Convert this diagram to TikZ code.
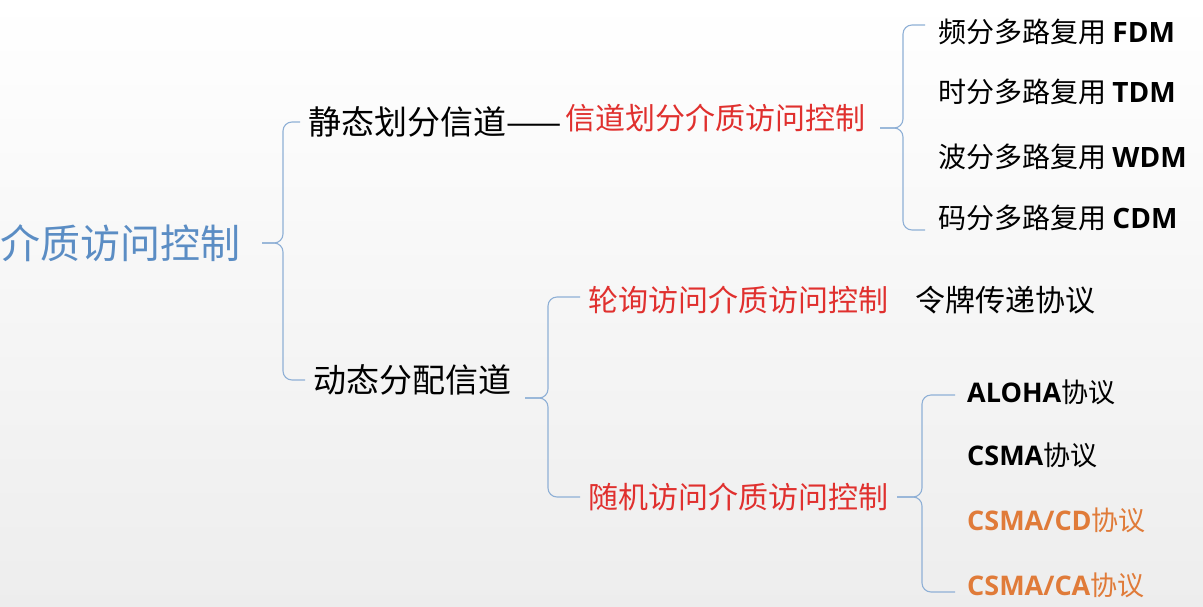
\documentclass[tikz,border=0pt]{standalone}
\usepackage{fontspec}
\usetikzlibrary{calc}
\setmainfont{Noto Sans CJK SC}
\newfontfamily\latb{Open Sans}[BoldFont={Open Sans Bold}]
\definecolor{rootblue}{HTML}{5B8DC4}
\definecolor{redt}{HTML}{E0302E}
\definecolor{orng}{HTML}{E07B39}
\definecolor{brc}{HTML}{8FB0D6}
\begin{document}
\begin{tikzpicture}[x=1pt,y=-1pt,
  txt/.style={anchor=west,inner sep=0pt},
  fs/.style={font=\fontsize{#1}{#1}\selectfont},
  brace/.style={draw=brc,line width=1.1pt,rounded corners=9pt}]
\shade[top color=white,bottom color=black!7] (0,0) rectangle (1203,606);
\useasboundingbox (0,0) rectangle (1203,606);
\node[txt,fs=40,text=rootblue] (root) at (0,243) {介质访问控制};
\node[txt,fs=33] (stat) at (308,122) {静态划分信道——};
\node[txt,fs=30,text=redt] (chan) at (565,118) {信道划分介质访问控制};
\node[txt,fs=33] (dyn) at (313,380) {动态分配信道};
\foreach \n/\t/\l/\y in {fdm/频/FDM/32,tdm/时/TDM/92,wdm/波/WDM/157,cdm/码/CDM/218}
  \node[txt,fs=28] (\n) at (938,\y) {\t 分多路复用 {\latb\bfseries\l}};
\node[txt,fs=30,text=redt] (poll) at (588,300) {轮询访问介质访问控制};
\node[txt,fs=30] (token) at (915,300) {令牌传递协议};
\node[txt,fs=30,text=redt] (rand) at (588,497) {随机访问介质访问控制};
\node[txt,fs=27] (aloha) at (967,392) {{\latb\bfseries ALOHA}协议};
\node[txt,fs=27] (csma) at (967,455) {{\latb\bfseries CSMA}协议};
\node[txt,fs=27,text=orng] (cd) at (967,520) {{\latb\bfseries CSMA/CD}协议};
\node[txt,fs=27,text=orng] (ca) at (967,585) {{\latb\bfseries CSMA/CA}协议};
% braces
\coordinate (t1) at (262,243);
\draw[brace] ($(stat.west)+(-8,0)$) -- (283,122) -- (283,243) -- (t1);
\draw[brace] ($(dyn.west)+(-8,0)$) -- (283,380) -- (283,243) -- (t1);
\coordinate (t2) at (880,128);
\draw[brace] (925,25) -- (903,25) -- (903,128) -- (t2);
\draw[brace] (925,230) -- (903,230) -- (903,128) -- (t2);
\coordinate (t3) at (525,398);
\draw[brace] ($(poll.west)+(-8,-3)$) -- (548,297) -- (548,398) -- (t3);
\draw[brace] ($(rand.west)+(-8,0)$) -- (548,497) -- (548,398) -- (t3);
\coordinate (t4) at (897,497);
\draw[brace] (955,395) -- (922,395) -- (922,497) -- (t4);
\draw[brace] (955,592) -- (922,592) -- (922,497) -- (t4);
\end{tikzpicture}
\end{document}
